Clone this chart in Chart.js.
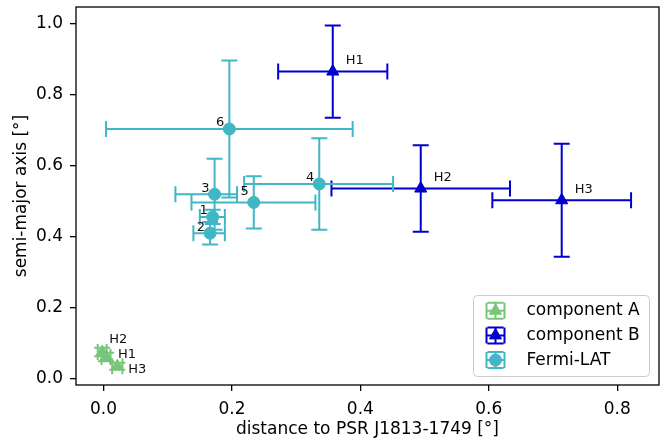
<!DOCTYPE html>
<html><head><meta charset="utf-8">
<script src="https://cdn.jsdelivr.net/npm/chart.js@4.4.1/dist/chart.umd.min.js"></script>
<style>html,body{margin:0;padding:0;background:#fff;overflow:hidden}#c{display:block}</style>
</head><body><canvas id="c" width="662" height="441" style="width:662px;height:441px"></canvas>
<script>
// ---------------- data ----------------
const compALabels = ['H1', 'H2', 'H3'];
const compAX = [0.004, -0.002, 0.0215];
const compAY = [0.061, 0.075, 0.035];
const compAXErr = [0.007, 0.007, 0.008];
const compAYErr = [0.012, 0.012, 0.010];

const compBLabels = ['H1', 'H2', 'H3'];
const compBX = [0.357, 0.494, 0.7135];
const compBY = [0.866, 0.536, 0.503];
const compBXErr = [0.085, 0.139, 0.108];
const compBYErr = [0.130, 0.122, 0.159];

const fermiLabels = ['1', '2', '3', '4', '5', '6'];
const fermiX = [0.170, 0.166, 0.173, 0.336, 0.234, 0.196];
const fermiY = [0.456, 0.410, 0.520, 0.549, 0.497, 0.704];
const fermiXErrLo = [0.020, 0.026, 0.061, 0.117, 0.097, 0.192];
const fermiXErrHi = [0.019, 0.023, 0.035, 0.115, 0.096, 0.192];
const fermiYErr = [0.020, 0.032, 0.100, 0.129, 0.074, 0.193];

const xTicks = [0.0, 0.2, 0.4, 0.6, 0.8];
const yTicks = [0.0, 0.2, 0.4, 0.6, 0.8, 1.0];
const seriesNames = ['component A', 'component B', 'Fermi-LAT'];

// ---------------- styles ----------------
const colA = '#78c679', colB = '#0000cd', colF = '#41b6c4';
const FONT = "'DejaVu Sans', sans-serif";

function makePoints(xs, ys, xLo, xHi, yLo, yHi, labels) {
  return xs.map((x, i) => ({
    x: x, y: ys[i],
    xMin: x - xLo[i], xMax: x + xHi[i],
    yMin: ys[i] - yLo[i], yMax: ys[i] + yHi[i],
    label: labels[i]
  }));
}

// annotation placement (pixel offsets from marker)
const annotStyle = [
  { align: 'left', off: { H1: [12, 1], H2: [7, -9], H3: [11, 7] } },
  { align: 'left', dx: 13, dy: -7.5 },
  { align: 'right', dx: -5, dy: -2.5, off: { '5': [-5, -7] } }
];

const errorBarPlugin = {
  id: 'errbars',
  beforeDatasetDraw(chart, args) {
    const ds = chart.data.datasets[args.index];
    const xs = chart.scales.x, ys = chart.scales.y, ctx = chart.ctx, a = chart.chartArea;
    const cap = 8;
    ctx.save();
    ctx.beginPath(); ctx.rect(a.left, a.top, a.right - a.left, a.bottom - a.top); ctx.clip();
    ctx.strokeStyle = ds.borderColor; ctx.lineWidth = 2; ctx.lineCap = 'butt';
    ds.data.forEach(d => {
      const px = xs.getPixelForValue(d.x), py = ys.getPixelForValue(d.y);
      const x0 = xs.getPixelForValue(d.xMin), x1 = xs.getPixelForValue(d.xMax);
      const y0 = ys.getPixelForValue(d.yMin), y1 = ys.getPixelForValue(d.yMax);
      ctx.beginPath();
      ctx.moveTo(x0, py); ctx.lineTo(x1, py);
      ctx.moveTo(px, y0); ctx.lineTo(px, y1);
      ctx.moveTo(x0, py - cap); ctx.lineTo(x0, py + cap);
      ctx.moveTo(x1, py - cap); ctx.lineTo(x1, py + cap);
      ctx.moveTo(px - cap, y0); ctx.lineTo(px + cap, y0);
      ctx.moveTo(px - cap, y1); ctx.lineTo(px + cap, y1);
      ctx.stroke();
    });
    ctx.restore();
  }
};

const framePlugin = {
  id: 'frame',
  afterDatasetsDraw(chart) {
    const ctx = chart.ctx, a = chart.chartArea;
    ctx.save();
    ctx.strokeStyle = '#000'; ctx.lineWidth = 1.3;
    ctx.strokeRect(a.left, a.top, a.right - a.left, a.bottom - a.top);
    // annotations
    ctx.font = '13px ' + FONT; ctx.fillStyle = '#111'; ctx.textBaseline = 'alphabetic';
    chart.data.datasets.forEach((ds, di) => {
      const st = annotStyle[di];
      const meta = chart.getDatasetMeta(di);
      ctx.textAlign = st.align;
      ds.data.forEach((d, i) => {
        const el = meta.data[i];
        let dx = st.dx || 0, dy = st.dy || 0;
        if (st.off && st.off[d.label]) { dx = st.off[d.label][0]; dy = st.off[d.label][1]; }
        ctx.fillText(d.label, el.x + dx, el.y + dy);
      });
    });
    ctx.restore();
  }
};

const legendPlugin = {
  id: 'mplLegend',
  afterDraw(chart) {
    const ctx = chart.ctx, a = chart.chartArea;
    const w = 176, h = 81;
    const right = a.right - 10, bottom = a.bottom - 9;
    const left = right - w, top = bottom - h;
    ctx.save();
    ctx.beginPath();
    if (ctx.roundRect) ctx.roundRect(left + 0.5, top + 0.5, w, h, 4); else ctx.rect(left + 0.5, top + 0.5, w, h);
    ctx.fillStyle = 'rgba(255,255,255,0.8)'; ctx.fill();
    ctx.strokeStyle = '#cccccc'; ctx.lineWidth = 1; ctx.stroke();
    chart.data.datasets.slice().sort((p, q) => p.legendIndex - q.legendIndex).forEach((ds, k) => {
      const cy = top + 15.7 + k * 24.7;
      const cx = left + 22.5;
      ctx.strokeStyle = ds.borderColor; ctx.fillStyle = ds.backgroundColor; ctx.lineWidth = 2;
      ctx.beginPath();
      ctx.moveTo(cx - 9, cy); ctx.lineTo(cx + 9, cy);
      ctx.moveTo(cx, cy - 8); ctx.lineTo(cx, cy + 8);
      ctx.moveTo(cx - 9, cy - 8); ctx.lineTo(cx - 9, cy + 8);
      ctx.moveTo(cx + 9, cy - 8); ctx.lineTo(cx + 9, cy + 8);
      ctx.moveTo(cx - 8, cy - 8); ctx.lineTo(cx + 8, cy - 8);
      ctx.moveTo(cx - 8, cy + 8); ctx.lineTo(cx + 8, cy + 8);
      ctx.stroke();
      ctx.lineWidth = 1;
      Chart.helpers.drawPoint(ctx, { pointStyle: ds.pointStyle, radius: ds.pointRadius, borderWidth: 1, rotation: 0 }, cx, cy);
      ctx.fillStyle = '#000'; ctx.font = '17px ' + FONT; ctx.textAlign = 'left'; ctx.textBaseline = 'middle';
      ctx.fillText(ds.label, left + 53.4, cy);
    });
    ctx.restore();
  }
};

const datasets = [
  { label: seriesNames[0], legendIndex: 0, order: 3,
    data: makePoints(compAX, compAY, compAXErr, compAXErr, compAYErr, compAYErr, compALabels),
    pointStyle: 'triangle', pointRadius: 7, backgroundColor: colA, borderColor: colA, borderWidth: 1 },
  { label: seriesNames[1], legendIndex: 1, order: 2,
    data: makePoints(compBX, compBY, compBXErr, compBXErr, compBYErr, compBYErr, compBLabels),
    pointStyle: 'triangle', pointRadius: 7, backgroundColor: colB, borderColor: colB, borderWidth: 1 },
  { label: seriesNames[2], legendIndex: 2, order: 1,
    data: makePoints(fermiX, fermiY, fermiXErrLo, fermiXErrHi, fermiYErr, fermiYErr, fermiLabels),
    pointStyle: 'circle', pointRadius: 6, backgroundColor: colF, borderColor: colF, borderWidth: 1 }
];

new Chart(document.getElementById('c'), {
  type: 'scatter',
  data: { datasets: datasets },
  plugins: [errorBarPlugin, framePlugin, legendPlugin],
  options: {
    responsive: false, animation: false, devicePixelRatio: 1,
    layout: { autoPadding: false, padding: { left: 0, right: 3, top: 7, bottom: 0 } },
    plugins: { legend: { display: false }, tooltip: { enabled: false } },
    scales: {
      x: {
        type: 'linear', position: 'bottom', min: -0.0428, max: 0.865,
        afterBuildTicks: s => { s.ticks = xTicks.map(v => ({ value: v })); },
        afterFit: s => { s.height = 56; s.paddingLeft = 0; s.paddingRight = 0; },
        ticks: { callback: v => Number(v).toFixed(1), font: { family: FONT, size: 17 }, color: '#000', padding: 8, maxRotation: 0, autoSkip: false },
        grid: { display: true, drawOnChartArea: false, drawTicks: true, tickLength: 6, color: '#000', lineWidth: 1.3 },
        border: { display: false },
        title: { display: true, text: 'distance to PSR J1813-1749 [°]', font: { family: FONT, size: 17 }, color: '#000', padding: { top: 0, bottom: 1.5 } }
      },
      y: {
        type: 'linear', position: 'left', min: -0.018, max: 1.048,
        afterBuildTicks: s => { s.ticks = yTicks.map(v => ({ value: v })); },
        afterFit: s => { s.width = 76; s.paddingTop = 0; s.paddingBottom = 0; },
        ticks: { callback: v => Number(v).toFixed(1), font: { family: FONT, size: 17 }, color: '#000', padding: 7, autoSkip: false },
        grid: { display: true, drawOnChartArea: false, drawTicks: true, tickLength: 6, color: '#000', lineWidth: 1.3 },
        border: { display: false },
        title: { display: true, text: 'semi-major axis [°]', font: { family: FONT, size: 17 }, color: '#000', padding: { top: 11, bottom: 0 } }
      }
    }
  }
});
</script>
</body></html>
